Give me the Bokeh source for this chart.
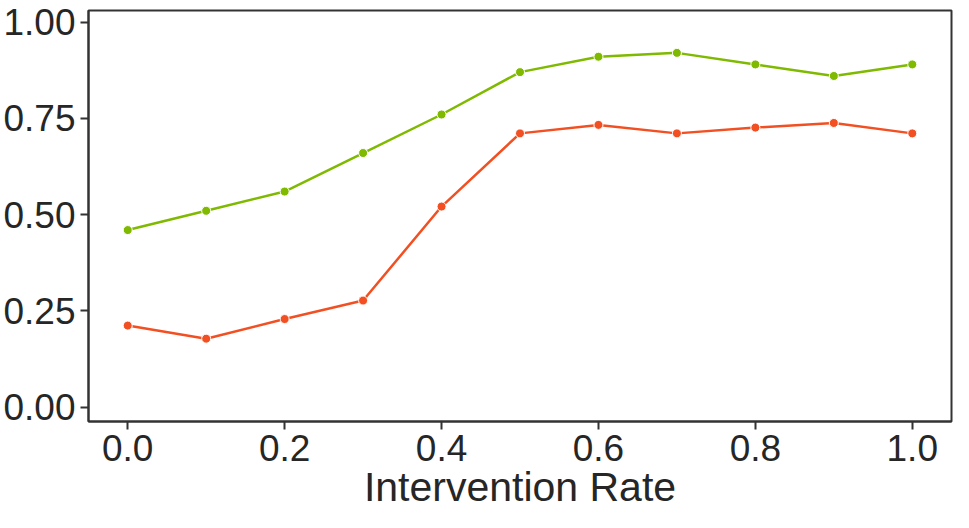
from bokeh.plotting import figure
from bokeh.models import Range1d, FixedTicker, NumeralTickFormatter, ColumnDataSource
from bokeh.embed import file_html
from bokeh.resources import INLINE

rates = [0.0, 0.1, 0.2, 0.3, 0.4, 0.5, 0.6, 0.7, 0.8, 0.9, 1.0]
green_vals = [0.46, 0.51, 0.56, 0.66, 0.76, 0.87, 0.91, 0.92, 0.89, 0.86, 0.89]
red_vals = [0.212, 0.178, 0.229, 0.277, 0.521, 0.711, 0.733, 0.711, 0.726, 0.738, 0.711]
y_ticks = [0.0, 0.25, 0.5, 0.75, 1.0]
x_ticks = [0.0, 0.2, 0.4, 0.6, 0.8, 1.0]
x_label = "Intervention Rate"

GREEN = "#7FBA00"
RED = "#F25022"
TEXT = "#262626"
FONT = "Liberation Sans"

p = figure(width=953, height=512, output_backend="svg", toolbar_location=None,
           x_range=Range1d(-0.05, 1.05), y_range=Range1d(-0.037, 1.03),
           min_border_top=10, min_border_right=2, min_border_left=0, min_border_bottom=0)

p.outline_line_color = "#333333"
p.outline_line_width = 2
p.background_fill_color = "white"
p.border_fill_color = "white"
p.xgrid.visible = False
p.ygrid.visible = False

for ax in (p.xaxis[0], p.yaxis[0]):
    ax.axis_line_color = "#333333"
    ax.axis_line_width = 2
    ax.major_tick_line_color = "#333333"
    ax.major_tick_line_width = 2
    ax.major_tick_out = 8
    ax.major_tick_in = 0
    ax.minor_tick_line_color = None
    ax.major_label_text_font = FONT
    ax.major_label_text_font_size = "37px"
    ax.major_label_text_color = TEXT
    ax.major_label_standoff = 5

p.yaxis[0].ticker = FixedTicker(ticks=y_ticks)
p.yaxis[0].formatter = NumeralTickFormatter(format="0.00")
p.xaxis[0].ticker = FixedTicker(ticks=x_ticks)
p.xaxis[0].formatter = NumeralTickFormatter(format="0.0")
p.xaxis[0].axis_label = x_label
p.xaxis[0].axis_label_text_font = FONT
p.xaxis[0].axis_label_text_font_size = "41px"
p.xaxis[0].axis_label_text_font_style = "normal"
p.xaxis[0].axis_label_text_color = TEXT
p.xaxis[0].axis_label_standoff = 0

src_g = ColumnDataSource(dict(x=rates, y=green_vals))
src_r = ColumnDataSource(dict(x=rates, y=red_vals))

p.line("x", "y", source=src_r, line_color=RED, line_width=2.5)
p.scatter("x", "y", source=src_r, size=9, fill_color=RED, line_color="white", line_width=1)
p.line("x", "y", source=src_g, line_color=GREEN, line_width=2.5)
p.scatter("x", "y", source=src_g, size=9, fill_color=GREEN, line_color="white", line_width=1)

open("out.html", "w").write(file_html(p, INLINE))
